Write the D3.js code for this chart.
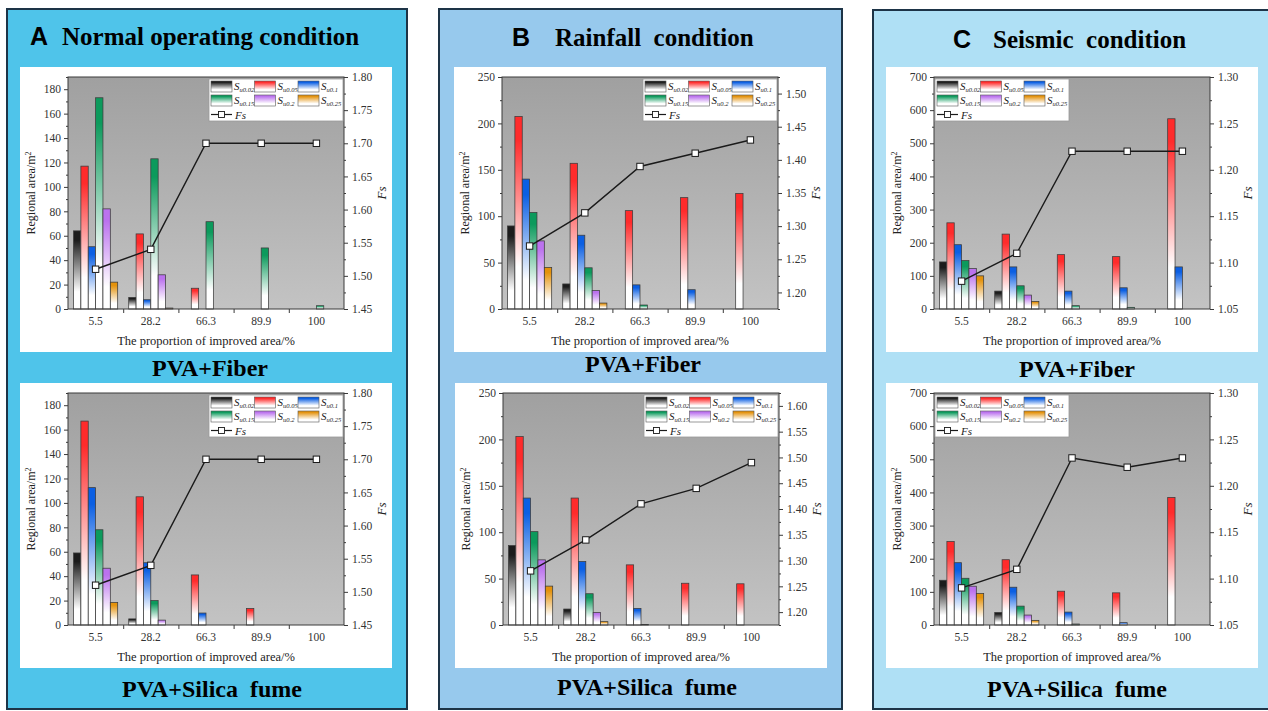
<!DOCTYPE html>
<html>
<head>
<meta charset="utf-8">
<script src="https://cdn.jsdelivr.net/npm/d3@7"></script>
<style>
  body { margin: 0; background: #fff; }
  svg { display: block; }
  text { font-family: 'Liberation Serif', 'Times New Roman', serif; }
</style>
</head>
<body>
<svg id="figure"></svg>
<script>
// categories and series
const categories = ['5.5', '28.2', '66.3', '89.9', '100'];
const seriesNames = ['u0.02', 'u0.05', 'u0.1', 'u0.15', 'u0.2', 'u0.25'];
const seriesColors = ['#1c1c1c', '#ff2b2b', '#0b5fe3', '#0c9a5c', '#bb72ee', '#e4920c'];

// A - normal operating condition (one row per series, one value per category)
const normalFiber = [
    [64, 9.5, 0, 0, 0],
    [117, 61.5, 17, 0, 0],
    [51, 7.6, 0, 0, 0],
    [173, 123, 71.5, 50, 2.7],
    [82, 28, 0, 0, 0],
    [22, 0.8, 0, 0, 0]
];
const normalFiberFs = [1.51, 1.54, 1.70, 1.70, 1.70];
const normalSilica = [
    [59, 5, 0, 0, 0],
    [167, 105, 41, 13.5, 0],
    [112.5, 51, 9.8, 0, 0],
    [78, 20, 0, 0, 0],
    [46.5, 4, 0, 0, 0],
    [18.5, 0, 0, 0, 0]
];
const normalSilicaFs = [1.51, 1.54, 1.70, 1.70, 1.70];

// B - rainfall condition
const rainFiber = [
    [89.5, 27, 0, 0, 0],
    [207.5, 157, 106, 120, 124.5],
    [140, 79.5, 26, 20.8, 0],
    [104, 44.4, 4.3, 0, 0],
    [73.4, 20, 0, 0, 0],
    [44.8, 6.4, 0, 0, 0]
];
const rainFiberFs = [1.27, 1.32, 1.39, 1.41, 1.43];
const rainSilica = [
    [85.6, 17.2, 0, 0, 0],
    [203, 136.8, 64.8, 45, 44.4],
    [136.8, 68.4, 17.9, 0, 0],
    [100.6, 33.7, 0.6, 0, 0],
    [70.2, 13.6, 0, 0, 0],
    [41.9, 3.6, 0, 0, 0]
];
const rainSilicaFs = [1.28, 1.34, 1.41, 1.44, 1.49];

// C - seismic condition
const quakeFiber = [
    [142, 54, 0, 0, 0],
    [260, 226, 164, 158, 574],
    [194, 127, 54, 64, 127],
    [146, 70, 10, 5, 0],
    [122, 42, 0, 0, 0],
    [100, 23, 0, 0, 0]
];
const quakeFiberFs = [1.08, 1.11, 1.22, 1.22, 1.22];
const quakeSilica = [
    [135, 38, 0, 0, 0],
    [252, 197, 102, 97, 385],
    [188, 114, 39, 7, 0],
    [141, 57, 3, 0, 0],
    [117, 30, 0, 0, 0],
    [95, 14, 0, 0, 0]
];
const quakeSilicaFs = [1.09, 1.11, 1.23, 1.22, 1.23];

// axis ranges
const normalArea = { max: 190, step: 20 };
const rainArea = { max: 250, step: 50 };
const quakeArea = { max: 700, step: 100 };
const normalFsRange = [1.45, 1.80];
const rainFiberFsRange = [1.175, 1.525];
const rainSilicaFsRange = [1.175, 1.625];
const quakeFsRange = [1.05, 1.30];

// layout
const W = 1268, H = 711;
const boxW = 372, boxH = 285;
const inner = { left: 48, right: 48, top: 10, bottom: 43 };
const pw = boxW - inner.left - inner.right;
const ph = boxH - inner.top - inner.bottom;

const svg = d3.select('#figure')
    .attr('width', W)
    .attr('height', H);

const defs = svg.append('defs');

// bar gradients, colour at the top fading to white
seriesColors.forEach((c, i) => {
    const g = defs.append('linearGradient')
        .attr('id', `bar${i}`)
        .attr('x1', 0).attr('y1', 0).attr('x2', 0).attr('y2', 1);
    g.append('stop').attr('offset', '0%').attr('stop-color', c);
    g.append('stop').attr('offset', '12%').attr('stop-color', c);
    g.append('stop').attr('offset', '78%').attr('stop-color', '#fff');
    g.append('stop').attr('offset', '100%').attr('stop-color', '#fff');
});

const bg = defs.append('linearGradient')
    .attr('id', 'plotbg')
    .attr('x1', 0).attr('y1', 0).attr('x2', 0).attr('y2', 1);
bg.append('stop').attr('offset', '0%').attr('stop-color', '#a0a0a0');
bg.append('stop').attr('offset', '55%').attr('stop-color', '#b3b3b3');
bg.append('stop').attr('offset', '100%').attr('stop-color', '#c3c3c3');

const panels = [
    {
        letter: 'A', title: 'Normal operating condition', fill: '#4fc4ea',
        box: [7, 9, 400, 700], letterX: 30, titleX: 62, titleY: 45,
        charts: [
            { x: 20, y: 67, bars: normalFiber, fs: normalFiberFs, area: normalArea, fsRange: normalFsRange, fsStep: 0.05, legendLeft: false },
            { x: 20, y: 383, bars: normalSilica, fs: normalSilicaFs, area: normalArea, fsRange: normalFsRange, fsStep: 0.05, legendLeft: false }
        ],
        sub1: [210, 376], sub2: [212, 697]
    },
    {
        letter: 'B', title: 'Rainfall  condition', fill: '#97c9ed',
        box: [439, 9, 403, 700], letterX: 512, titleX: 555, titleY: 46,
        charts: [
            { x: 454, y: 67, bars: rainFiber, fs: rainFiberFs, area: rainArea, fsRange: rainFiberFsRange, fsStep: 0.05, legendLeft: false },
            { x: 455, y: 383, bars: rainSilica, fs: rainSilicaFs, area: rainArea, fsRange: rainSilicaFsRange, fsStep: 0.05, legendLeft: false }
        ],
        sub1: [643, 372], sub2: [647, 695]
    },
    {
        letter: 'C', title: 'Seismic  condition', fill: '#afe0f5',
        box: [873, 10, 400, 699], letterX: 953, titleX: 993, titleY: 48,
        charts: [
            { x: 886, y: 67, bars: quakeFiber, fs: quakeFiberFs, area: quakeArea, fsRange: quakeFsRange, fsStep: 0.05, legendLeft: true },
            { x: 886, y: 383, bars: quakeSilica, fs: quakeSilicaFs, area: quakeArea, fsRange: quakeFsRange, fsStep: 0.05, legendLeft: true }
        ],
        sub1: [1077, 377], sub2: [1077, 697]
    }
];

panels.forEach(p => {
    svg.append('rect')
        .attr('x', p.box[0]).attr('y', p.box[1])
        .attr('width', p.box[2]).attr('height', p.box[3])
        .attr('fill', p.fill)
        .attr('stroke', '#1d3447')
        .attr('stroke-width', 2);

    svg.append('text')
        .attr('x', p.letterX).attr('y', p.titleY)
        .style('font-family', "'Liberation Sans', Arial, sans-serif")
        .style('font-weight', 'bold')
        .style('font-size', '25px')
        .text(p.letter);

    svg.append('text')
        .attr('x', p.titleX).attr('y', p.titleY)
        .style('font-weight', 'bold')
        .style('font-size', '25px')
        .style('white-space', 'pre')
        .text(p.title);

    svg.append('text')
        .attr('x', p.sub1[0]).attr('y', p.sub1[1])
        .style('text-anchor', 'middle')
        .style('font-weight', 'bold')
        .style('font-size', '24px')
        .text('PVA+Fiber');

    svg.append('text')
        .attr('x', p.sub2[0]).attr('y', p.sub2[1])
        .style('text-anchor', 'middle')
        .style('font-weight', 'bold')
        .style('font-size', '24px')
        .style('white-space', 'pre')
        .text('PVA+Silica  fume');

    p.charts.forEach(c => drawChart(c));
});

function drawChart(c) {
    svg.append('rect')
        .attr('x', c.x).attr('y', c.y)
        .attr('width', boxW).attr('height', boxH)
        .attr('fill', '#fff');

    const g = svg.append('g')
        .attr('transform', `translate(${c.x + inner.left},${c.y + inner.top})`);

    const x0 = d3.scaleBand().domain(categories).range([0, pw]);
    const x1 = d3.scaleBand().domain(d3.range(seriesNames.length))
        .range([x0.bandwidth() * 0.1, x0.bandwidth() * 0.9]);
    const y = d3.scaleLinear().domain([0, c.area.max]).range([ph, 0]);
    const yR = d3.scaleLinear().domain(c.fsRange).range([ph, 0]);

    g.append('rect')
        .attr('width', pw).attr('height', ph)
        .attr('fill', 'url(#plotbg)');

    // bars
    const rows = [];
    c.bars.forEach((vals, s) => {
        vals.forEach((v, k) => {
            if (v > 0) rows.push({ s, cat: categories[k], v });
        });
    });
    g.selectAll('rect.bar')
        .data(rows)
        .enter()
        .append('rect')
        .attr('class', 'bar')
        .attr('x', d => x0(d.cat) + x1(d.s))
        .attr('y', d => y(d.v))
        .attr('width', x1.bandwidth())
        .attr('height', d => ph - y(d.v))
        .attr('fill', d => `url(#bar${d.s})`)
        .attr('stroke', '#3c3c3c')
        .attr('stroke-width', 0.75);

    // Fs line
    const fsPts = c.fs.map((v, k) => ({ cat: categories[k], v }));
    const line = d3.line()
        .x(d => x0(d.cat) + x0.bandwidth() / 2)
        .y(d => yR(d.v));
    g.append('path')
        .datum(fsPts)
        .attr('d', line)
        .attr('fill', 'none')
        .attr('stroke', '#1a1a1a')
        .attr('stroke-width', 1.4);
    g.selectAll('rect.fs')
        .data(fsPts)
        .enter()
        .append('rect')
        .attr('class', 'fs')
        .attr('x', d => x0(d.cat) + x0.bandwidth() / 2 - 3.2)
        .attr('y', d => yR(d.v) - 3.2)
        .attr('width', 6.4).attr('height', 6.4)
        .attr('fill', '#fff')
        .attr('stroke', '#1a1a1a')
        .attr('stroke-width', 1);

    // frame
    g.append('rect')
        .attr('width', pw).attr('height', ph)
        .attr('fill', 'none')
        .attr('stroke', '#3a3a3a')
        .attr('stroke-width', 1);

    // left axis
    const major = d3.range(0, c.area.max + 0.001, c.area.step);
    const minor = d3.range(c.area.step / 2, c.area.max + 0.001, c.area.step);
    const yAxis = g.append('g').call(d3.axisLeft(y).tickValues(major).tickSize(4).tickPadding(3));
    g.append('g').call(d3.axisLeft(y).tickValues(minor).tickSize(2).tickFormat(''));

    // right axis
    const fsMajor = d3.range(Math.ceil(c.fsRange[0] / c.fsStep - 1e-6), Math.floor(c.fsRange[1] / c.fsStep + 1e-6) + 1)
        .map(i => +(i * c.fsStep).toFixed(2));
    const fsMinor = fsMajor.map(v => v + c.fsStep / 2).concat([fsMajor[0] - c.fsStep / 2])
        .filter(v => v >= c.fsRange[0] && v <= c.fsRange[1]);
    const rAxis = g.append('g')
        .attr('transform', `translate(${pw},0)`)
        .call(d3.axisRight(yR).tickValues(fsMajor).tickFormat(d3.format('.2f')).tickSize(4).tickPadding(4));
    g.append('g')
        .attr('transform', `translate(${pw},0)`)
        .call(d3.axisRight(yR).tickValues(fsMinor).tickSize(2).tickFormat(''));

    // bottom axis: labels at group centres, ticks at group borders
    const xAxis = g.append('g')
        .attr('transform', `translate(0,${ph})`)
        .call(d3.axisBottom(x0).tickSize(0).tickPadding(8));
    const border = d3.scaleLinear().domain([0, categories.length]).range([0, pw]);
    g.append('g')
        .attr('transform', `translate(0,${ph})`)
        .call(d3.axisBottom(border).tickValues([1, 2, 3, 4]).tickSize(4).tickFormat(''));

    g.selectAll('.domain').remove();
    g.selectAll('.tick line').attr('stroke', '#3a3a3a');
    [yAxis, rAxis, xAxis].forEach(a => a.selectAll('text')
        .style('font-family', "'Liberation Serif', 'Times New Roman', serif")
        .style('font-size', '11.5px')
        .attr('fill', '#333'));

    // axis titles
    g.append('text')
        .attr('transform', `translate(${-inner.left + 15},${ph / 2}) rotate(-90)`)
        .style('text-anchor', 'middle')
        .style('font-size', '12px')
        .attr('fill', '#222')
        .text('Regional area/m')
        .append('tspan')
        .attr('dy', -4)
        .style('font-size', '8px')
        .text('2');

    g.append('text')
        .attr('transform', `translate(${pw + 42},${ph / 2}) rotate(-90)`)
        .style('text-anchor', 'middle')
        .style('font-size', '13px')
        .style('font-style', 'italic')
        .attr('fill', '#222')
        .text('Fs');

    g.append('text')
        .attr('x', pw / 2)
        .attr('y', ph + 36)
        .style('text-anchor', 'middle')
        .style('font-size', '12.5px')
        .attr('fill', '#222')
        .text('The proportion of improved area/%');

    // legend
    const lw = 134, lh = 42;
    const lx = c.legendLeft ? 1 : pw - lw - 1;
    const legend = g.append('g').attr('transform', `translate(${lx},2)`);
    legend.append('rect')
        .attr('width', lw).attr('height', lh)
        .attr('fill', '#fff')
        .attr('stroke', '#9a9a9a')
        .attr('stroke-width', 0.8);

    const items = legend.selectAll('g.item')
        .data(seriesNames)
        .enter()
        .append('g')
        .attr('class', 'item')
        .attr('transform', (d, i) => `translate(${2 + (i % 3) * 43.5},${2 + Math.floor(i / 3) * 14})`);
    items.append('rect')
        .attr('width', 21).attr('height', 11)
        .attr('fill', (d, i) => `url(#bar${i})`)
        .attr('stroke', '#555')
        .attr('stroke-width', 0.6);
    const lt = items.append('text')
        .attr('x', 23).attr('y', 8.5)
        .style('font-size', '11px')
        .style('font-style', 'italic')
        .attr('fill', '#222')
        .text('S');
    lt.append('tspan')
        .attr('dy', 2.5)
        .style('font-size', '6.5px')
        .text(d => d);

    const fsItem = legend.append('g').attr('transform', 'translate(2,30)');
    fsItem.append('line')
        .attr('x1', 0).attr('x2', 21)
        .attr('y1', 5.5).attr('y2', 5.5)
        .attr('stroke', '#1a1a1a')
        .attr('stroke-width', 1.2);
    fsItem.append('rect')
        .attr('x', 7.5).attr('y', 2.5)
        .attr('width', 6).attr('height', 6)
        .attr('fill', '#fff')
        .attr('stroke', '#1a1a1a')
        .attr('stroke-width', 0.9);
    fsItem.append('text')
        .attr('x', 24).attr('y', 9.5)
        .style('font-size', '11px')
        .style('font-style', 'italic')
        .attr('fill', '#222')
        .text('Fs');
}
</script>
</body>
</html>
